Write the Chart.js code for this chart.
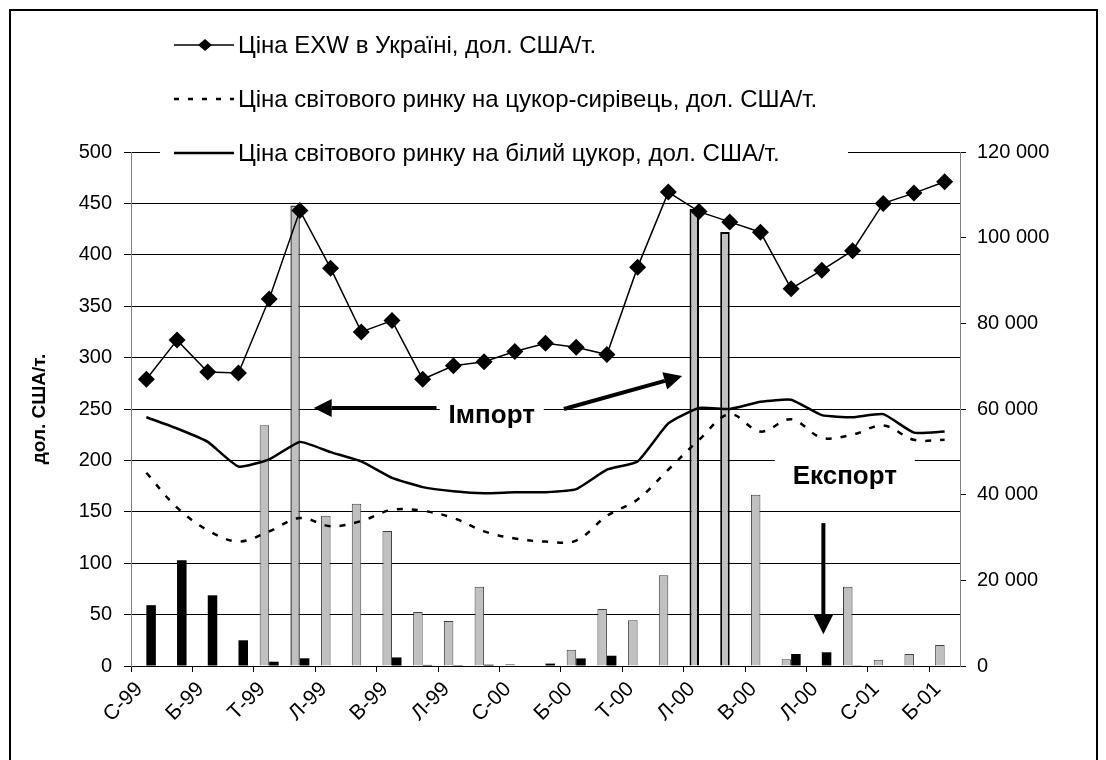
<!DOCTYPE html>
<html>
<head>
<meta charset="utf-8">
<script src="https://cdn.jsdelivr.net/npm/chart.js@4.4.1/dist/chart.umd.min.js"></script>
<style>
  html, body { margin: 0; padding: 0; background: #fff; overflow: hidden; }
  #wrap { position: relative; width: 1106px; height: 760px; }
  #frame { position: absolute; left: 9px; top: 9px; width: 1089px; height: 800px; border: 2px solid #000; border-bottom: none; box-sizing: border-box; pointer-events: none; }
  canvas { position: absolute; left: 0; top: 0; }
</style>
</head>
<body>
<div id="wrap">
  <canvas id="myChart" width="1106" height="760"></canvas>
  <div id="frame"></div>
</div>
<script>
// months Jan-99 .. Mar-01, only every second one gets a label
const months = ['С-99', 'Л-99', 'Б-99', 'К-99', 'Т-99', 'Ч-99', 'Л-99', 'С-99', 'В-99', 'Ж-99', 'Л-99', 'Г-99',
  'С-00', 'Л-00', 'Б-00', 'К-00', 'Т-00', 'Ч-00', 'Л-00', 'С-00', 'В-00', 'Ж-00', 'Л-00', 'Г-00',
  'С-01', 'Л-01', 'Б-01'];

// prices, дол. США/т. (left axis)
const exwPrice = [279, 317, 286, 285, 357, 443, 387, 325, 336, 279, 292, 296, 306, 314, 310, 303, 388, 461, 442, 432, 422, 367, 385, 404, 450, 460, 471];
const rawSugar = [188, 154, 132, 121, 131, 144, 136, 141, 152, 151, 144, 131, 124, 121, 122, 146, 162, 191, 220, 245, 228, 240, 222, 225, 234, 220, 220];
const whiteSugar = [242, 231, 218, 194, 201, 218, 208, 199, 183, 174, 170, 168, 169, 169, 172, 191, 199, 236, 251, 250, 257, 259, 244, 242, 245, 227, 228];

// volumes, т (right axis)
const imports = [0, 0, 0, 0, 56200, 107500, 35100, 37900, 31500, 12600, 10500, 18500, 400, 0, 3800, 13300, 10700, 21200, 106700, 101300, 40000, 1600, 0, 18500, 1450, 2800, 4900];
const exports = [14200, 24700, 16500, 6000, 1000, 1800, 0, 0, 2000, 250, 200, 300, 0, 560, 1770, 2400, 0, 0, 0, 0, 0, 2800, 3200, 160, 0, 0, 0];

const leftTicks = [0, 500, 50];
const rightTicks = [0, 120000, 20000];

const seriesNames = [
  'Ціна EXW в Україні, дол. США/т.',
  'Ціна світового ринку на цукор-сирівець, дол. США/т.',
  'Ціна світового ринку на білий цукор, дол. США/т.'
];

const FONT = '"Liberation Sans", Arial, sans-serif';
Chart.defaults.font.family = FONT;
Chart.defaults.color = '#000';

const bigImports = [18, 19]; // bars drawn with a heavy outline

function fmt(v) {
  return String(v).replace(/\B(?=(\d{3})+(?!\d))/g, ' ');
}

function arrow(ctx, x1, y1, x2, y2, head, half) {
  const a = Math.atan2(y2 - y1, x2 - x1);
  const bx = x2 - head * Math.cos(a), by = y2 - head * Math.sin(a);
  ctx.beginPath();
  ctx.moveTo(x1, y1);
  ctx.lineTo(bx, by);
  ctx.lineWidth = 4;
  ctx.stroke();
  ctx.beginPath();
  ctx.moveTo(x2, y2);
  ctx.lineTo(bx + half * Math.sin(a), by - half * Math.cos(a));
  ctx.lineTo(bx - half * Math.sin(a), by + half * Math.cos(a));
  ctx.closePath();
  ctx.fill();
}

// text labels + arrows, anchored in data units (category index, left axis value)
const notes = {
  id: 'notes',
  afterDatasetsDraw(chart) {
    const { ctx, scales: { x, y } } = chart;
    ctx.save();
    ctx.font = 'bold 26px ' + FONT;
    ctx.textAlign = 'center';
    ctx.textBaseline = 'middle';

    // Імпорт
    let cx = x.getPixelForValue(11.25), cy = y.getPixelForValue(243);
    ctx.fillStyle = '#fff';
    ctx.fillRect(cx - 52, cy - 20, 104, 40);
    ctx.fillStyle = '#000';
    ctx.fillText('Імпорт', cx, cy);
    ctx.strokeStyle = '#000';
    arrow(ctx, x.getPixelForValue(9.45), y.getPixelForValue(251), x.getPixelForValue(5.45), y.getPixelForValue(251), 18, 9);
    arrow(ctx, x.getPixelForValue(13.6), y.getPixelForValue(250), x.getPixelForValue(17.45), y.getPixelForValue(282), 18, 9);

    // Експорт
    cx = x.getPixelForValue(22.75); cy = y.getPixelForValue(184);
    ctx.fillStyle = '#fff';
    ctx.fillRect(cx - 70, cy - 22, 140, 44);
    ctx.fillStyle = '#000';
    ctx.fillText('Експорт', cx, cy);
    arrow(ctx, x.getPixelForValue(22.05), y.getPixelForValue(139), x.getPixelForValue(22.05), y.getPixelForValue(31), 20, 10);
    ctx.restore();
  }
};

// legend sits on top of the plot like in the original
const topLegend = {
  id: 'topLegend',
  afterDraw(chart) {
    const ctx = chart.ctx;
    ctx.save();
    ctx.fillStyle = '#fff';
    ctx.fillRect(160, 24, 688, 142);
    ctx.strokeStyle = '#000';
    ctx.fillStyle = '#000';
    ctx.font = '24px ' + FONT;
    ctx.textBaseline = 'middle';
    seriesNames.forEach((name, i) => {
      const yy = 45 + i * 54;
      ctx.beginPath();
      ctx.lineWidth = i === 0 ? 1.5 : 2.5;
      ctx.setLineDash(i === 1 ? [5, 9] : []);
      ctx.moveTo(174, yy);
      ctx.lineTo(234, yy);
      ctx.stroke();
      ctx.setLineDash([]);
      if (i === 0) {
        ctx.beginPath();
        ctx.moveTo(205 - 7, yy); ctx.lineTo(205, yy - 6); ctx.lineTo(205 + 7, yy); ctx.lineTo(205, yy + 6);
        ctx.closePath();
        ctx.fill();
      }
      ctx.fillText(name, 238, yy + 1);
    });
    ctx.restore();
  }
};

const ctx = document.getElementById('myChart');

new Chart(ctx, {
  data: {
    labels: months,
    datasets: [
      {
        type: 'line', label: seriesNames[0], data: exwPrice, yAxisID: 'y', order: 1,
        borderColor: '#000', borderWidth: 1.5,
        pointStyle: 'rectRot', pointRadius: 8.5, pointBackgroundColor: '#000', pointBorderColor: '#000', pointBorderWidth: 0
      },
      {
        type: 'line', label: seriesNames[1], data: rawSugar, yAxisID: 'y', order: 1,
        borderColor: '#000', borderWidth: 2.5, borderDash: [6, 9], pointRadius: 0, tension: 0.35
      },
      {
        type: 'line', label: seriesNames[2], data: whiteSugar, yAxisID: 'y', order: 1,
        borderColor: '#000', borderWidth: 2.5, pointRadius: 0, tension: 0.15
      },
      {
        type: 'bar', label: 'Імпорт', data: imports, yAxisID: 'y2', order: 2,
        backgroundColor: '#c0c0c0',
        borderColor: c => bigImports.includes(c.dataIndex) ? '#000' : '#404040',
        borderWidth: c => bigImports.includes(c.dataIndex) ? 2 : (c.dataIndex === 5 ? 1.5 : 1),
        borderSkipped: 'start',
        categoryPercentage: 0.62, barPercentage: 1
      },
      {
        type: 'bar', label: 'Експорт', data: exports, yAxisID: 'y2', order: 2,
        backgroundColor: '#000', borderColor: '#000', borderWidth: 0,
        categoryPercentage: 0.62, barPercentage: 1
      }
    ]
  },
  options: {
    responsive: false,
    animation: false,
    layout: { padding: { top: 152, left: 0, right: 0, bottom: 0 } },
    plugins: {
      legend: { display: false },
      tooltip: { enabled: false }
    },
    scales: {
      x: {
        offset: true,
        grid: {
          offset: true, drawOnChartArea: false, drawTicks: true, tickLength: 6,
          tickColor: c => c.index % 2 === 0 ? '#000' : 'rgba(0,0,0,0)'
        },
        border: { color: '#000', width: 1 },
        ticks: {
          autoSkip: false, maxRotation: 45, minRotation: 45, padding: 5, labelOffset: -7,
          font: { size: 21 },
          callback: (v, i) => i % 2 === 0 ? months[i] : ''
        },
        afterFit: s => { s.height = 94; }
      },
      y: {
        position: 'left',
        min: leftTicks[0], max: leftTicks[1],
        ticks: { stepSize: leftTicks[2], padding: 12, font: { size: 20 } },
        grid: { color: '#000', tickLength: 7 },
        border: { color: '#808080' },
        title: { display: true, text: 'дол. США/т.', font: { size: 19, weight: 'bold' }, padding: { top: 28, bottom: 0 } },
        afterFit: s => { s.width = 131; }
      },
      y2: {
        position: 'right',
        min: rightTicks[0], max: rightTicks[1],
        ticks: { stepSize: rightTicks[2], padding: 11, font: { size: 20 }, callback: v => fmt(v) },
        grid: { drawOnChartArea: false, color: '#000', tickLength: 6 },
        border: { color: '#808080' },
        afterFit: s => { s.width = 146; }
      }
    }
  },
  plugins: [notes, topLegend]
});
</script>
</body>
</html>
